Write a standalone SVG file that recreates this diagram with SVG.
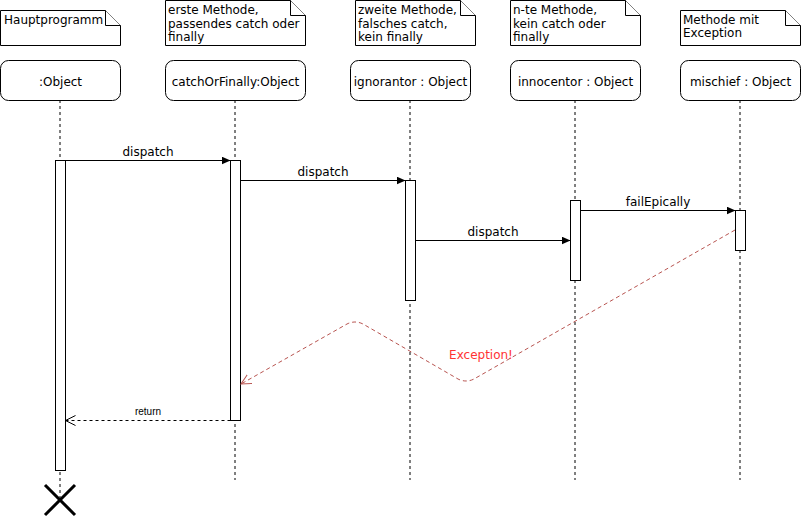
<svg xmlns="http://www.w3.org/2000/svg" width="801" height="517" viewBox="0 0 801 517">
<defs>
<marker id="fill" markerWidth="10" markerHeight="10" refX="9" refY="4" orient="auto" markerUnits="userSpaceOnUse"><path d="M0,0 L9,4 L0,8 Z" fill="#000"/></marker>
<marker id="open" markerWidth="12" markerHeight="12" refX="10" refY="5" orient="auto" markerUnits="userSpaceOnUse"><path d="M0,0 L10,5 L0,10" fill="none" stroke="#000"/></marker>
<marker id="openred" markerWidth="12" markerHeight="12" refX="10" refY="5" orient="auto" markerUnits="userSpaceOnUse"><path d="M0,0 L10,5 L0,10" fill="none" stroke="#b85450"/></marker>
</defs>
<style>
.note{fill:#fff;stroke:#000;stroke-width:1}
.head{fill:#fff;stroke:#000;stroke-width:1}
.act{fill:#fff;stroke:#000;stroke-width:1}
.life{stroke:#000;stroke-dasharray:3 3;fill:none}
.t{font-family:"DejaVu Sans",Verdana,sans-serif;font-size:12px;fill:#000}
.msg{stroke:#000;stroke-width:1;fill:none}
</style>
<rect width="801" height="517" fill="#fff"/>
<g id="lifelines">
<line class="life" x1="60" y1="100" x2="60" y2="500"/>
<line class="life" x1="235" y1="100" x2="235" y2="480"/>
<line class="life" x1="410" y1="100" x2="410" y2="480"/>
<line class="life" x1="575" y1="100" x2="575" y2="480"/>
<line class="life" x1="740" y1="100" x2="740" y2="480"/>
</g>
<g id="note-haupt">
<path class="note" d="M0.5,10.5 H105.5 L120.5,25.5 V45.5 H0.5 Z"/><path class="note" d="M105.5,10.5 V25.5 H120.5" fill="none"/>
<text class="t" x="4" y="23.5">Hauptprogramm</text>
</g>
<g id="note-catch">
<path class="note" d="M165.5,0.5 H290.5 L305.5,15.5 V45.5 H165.5 Z"/><path class="note" d="M290.5,0.5 V15.5 H305.5" fill="none"/>
<text class="t" x="168" y="14">erste Methode,</text>
<text class="t" x="168" y="27.5">passendes catch oder</text>
<text class="t" x="168" y="41">finally</text>
</g>
<g id="note-ign">
<path class="note" d="M355.5,0.5 H460.5 L475.5,15.5 V45.5 H355.5 Z"/><path class="note" d="M460.5,0.5 V15.5 H475.5" fill="none"/>
<text class="t" x="358" y="14">zweite Methode,</text>
<text class="t" x="358" y="27.5">falsches catch,</text>
<text class="t" x="358" y="41">kein finally</text>
</g>
<g id="note-inno">
<path class="note" d="M510.5,0.5 H625.5 L640.5,15.5 V45.5 H510.5 Z"/><path class="note" d="M625.5,0.5 V15.5 H640.5" fill="none"/>
<text class="t" x="513" y="14">n-te Methode,</text>
<text class="t" x="513" y="27.5">kein catch oder</text>
<text class="t" x="513" y="41">finally</text>
</g>
<g id="note-mis">
<path class="note" d="M680.5,10.5 H785.5 L800.5,25.5 V45.5 H680.5 Z"/><path class="note" d="M785.5,10.5 V25.5 H800.5" fill="none"/>
<text class="t" x="683" y="23.5">Methode mit</text>
<text class="t" x="683" y="37">Exception</text>
</g>
<g id="obj-main"><rect class="head" x="0.5" y="60.5" width="120" height="40" rx="8"/><text class="t" x="60.5" y="86" text-anchor="middle">:Object</text></g>
<g id="obj-catch"><rect class="head" x="165.5" y="60.5" width="140" height="40" rx="8"/><text class="t" x="235.5" y="86" text-anchor="middle">catchOrFinally:Object</text></g>
<g id="obj-ign"><rect class="head" x="350.5" y="60.5" width="120" height="40" rx="8"/><text class="t" x="410.5" y="86" text-anchor="middle">ignorantor : Object</text></g>
<g id="obj-inno"><rect class="head" x="510.5" y="60.5" width="130" height="40" rx="8"/><text class="t" x="575.5" y="86" text-anchor="middle">innocentor : Object</text></g>
<g id="obj-mis"><rect class="head" x="680.5" y="60.5" width="120" height="40" rx="8"/><text class="t" x="740.5" y="86" text-anchor="middle">mischief : Object</text></g>
<g id="activations">
<rect class="act" x="55.5" y="160.5" width="10" height="310"/>
<rect class="act" x="230.5" y="160.5" width="10" height="260"/>
<rect class="act" x="405.5" y="180.5" width="10" height="120"/>
<rect class="act" x="570.5" y="200.5" width="10" height="80"/>
<rect class="act" x="735.5" y="210.5" width="10" height="40"/>
</g>
<g id="destroy"><path d="M45,485 L75,515 M75,485 L45,515" stroke="#000" stroke-width="3"/></g>
<g id="connectors">
<line class="msg" x1="65.5" y1="160.5" x2="230.5" y2="160.5" marker-end="url(#fill)"/>
<text class="t" x="148" y="156" text-anchor="middle">dispatch</text>
<line class="msg" x1="240.5" y1="180.5" x2="405.5" y2="180.5" marker-end="url(#fill)"/>
<text class="t" x="323" y="176" text-anchor="middle">dispatch</text>
<line class="msg" x1="415.5" y1="240.5" x2="570.5" y2="240.5" marker-end="url(#fill)"/>
<text class="t" x="493" y="236" text-anchor="middle">dispatch</text>
<line class="msg" x1="580.5" y1="210.5" x2="735.5" y2="210.5" marker-end="url(#fill)"/>
<text class="t" x="658" y="206" text-anchor="middle">failEpically</text>
<line class="msg" x1="230.5" y1="420.5" x2="65.5" y2="420.5" stroke-dasharray="3 3" marker-end="url(#open)"/>
<text x="148" y="415" text-anchor="middle" font-family="Liberation Sans,Arial,sans-serif" font-size="10" fill="#000">return</text>
<path d="M735,230 L474,379 Q466,383 458,379 L363,324 Q355,320 347,324 L241,384" fill="none" stroke="#b85450" stroke-dasharray="4 3" marker-end="url(#openred)"/>
<text x="481" y="359" text-anchor="middle" font-family="DejaVu Sans,Verdana,sans-serif" font-size="12" fill="#ff3333">Exception!</text>
</g>
</svg>
